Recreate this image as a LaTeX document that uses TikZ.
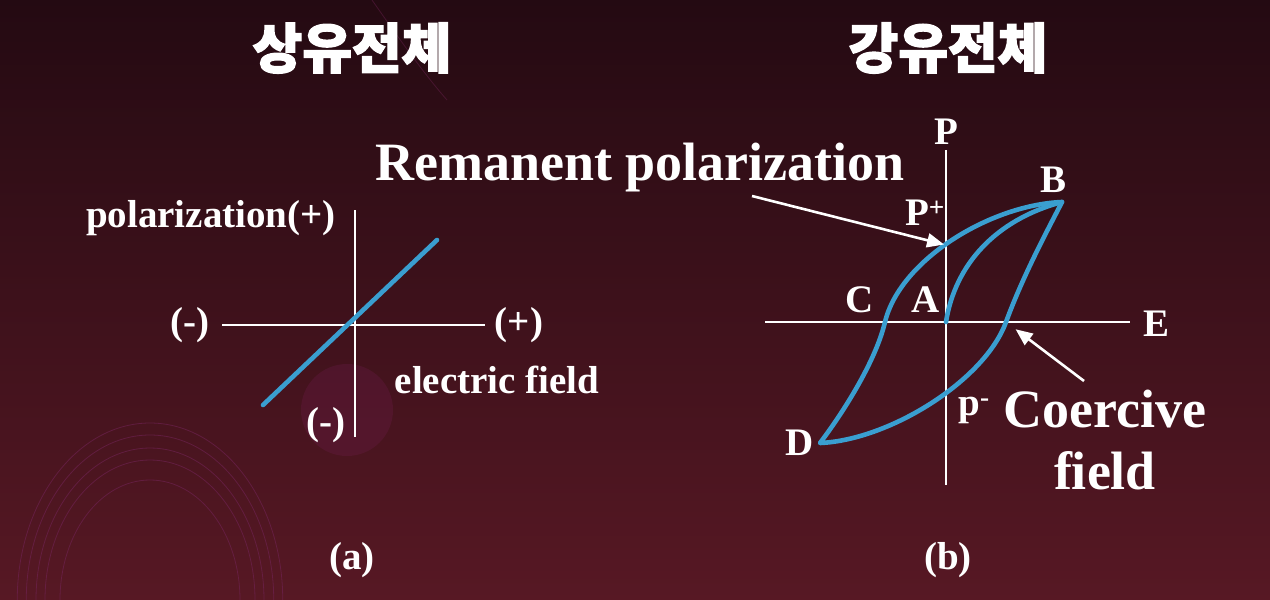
\documentclass[tikz,border=0pt]{standalone}
\usepackage{fontspec}
\setmainfont{Liberation Serif}
\newfontfamily\krfont{Noto Sans CJK KR}[BoldFeatures={FakeBold=2.5}]
\usetikzlibrary{arrows.meta}
\definecolor{bgdark}{HTML}{240A12}
\definecolor{bgred}{HTML}{571824}
\definecolor{loopblue}{HTML}{3A9ED0}
\definecolor{glowpink}{HTML}{6E1C4C}
\definecolor{ringpink}{HTML}{74245A}
\tikzset{every node/.style={text=white,inner sep=1pt},
  axis/.style={draw=white,line width=2.6pt},
  curve/.style={draw=loopblue,line width=4.6pt,line cap=round,line join=round},
  lbl/.style={font=\bfseries\fontsize{39}{42}\selectfont},
  biglbl/.style={font=\bfseries\fontsize{54}{62}\selectfont,align=center},
  title/.style={font=\krfont\bfseries\fontsize{54}{60}\selectfont},
  pointer/.style={draw=white,line width=2.6pt,-{Triangle[length=17pt,width=14pt]}},
  ring/.style={draw=ringpink,line width=0.8pt,opacity=0.55}}

\begin{document}
\begin{tikzpicture}[x=1pt,y=-1pt]
  \path[use as bounding box] (0,0) rectangle (1270,600);
  \shade[top color=bgdark,bottom color=bgred] (0,0) rectangle (1270,600);
  \begin{scope}
    \clip (0,0) rectangle (1270,600);
    \fill[glowpink,opacity=0.3] (347,410) circle (46);
    \foreach \r in {120,140,152,165,177}
      \draw[ring] (150,600) ellipse ({\r*0.75} and \r);
    \draw[ringpink,opacity=0.4,line width=0.8pt] (372,0) .. controls (400,40) and (425,75) .. (447,100);
  \end{scope}
  % titles
  \node[title] (para) at (352,48) {상유전체};
  \node[title] (ferro) at (948,48) {강유전체};
  % (a) linear dielectric
  \coordinate (aup) at (355,210);
  \coordinate (adown) at (355,437);
  \coordinate (aleft) at (222,325);
  \coordinate (aright) at (485,325);
  \coordinate (lin0) at (263,405);
  \coordinate (lin1) at (437,240);
  \draw[axis] (aup) -- (adown);
  \draw[axis] (aleft) -- (aright);
  \draw[curve] (lin0) -- (lin1);
  \node[lbl,anchor=east] (polz) at (337,218) {polarization(+)};
  \node[lbl] (hneg) at (190,325) {(-)};
  \node[lbl] (hpos) at (519,325) {(+)};
  \node[lbl] (vneg) at (326,425) {(-)};
  \node[lbl] (efield) at (497,380) {electric field};
  \node[lbl] (capa) at (352,560) {(a)};
  % (b) hysteresis loop
  \coordinate (bup) at (946,150);
  \coordinate (bdown) at (946,485);
  \coordinate (bleft) at (765,322);
  \coordinate (bright) at (1130,322);
  \coordinate (A) at (946,322);
  \coordinate (B) at (1062,202);
  \coordinate (C) at (885,322);
  \coordinate (D) at (820,443);
  \coordinate (Ec) at (1006,322);
  \coordinate (Pr) at (946,245);
  \coordinate (remtail) at (752,196);
  \coordinate (cftail) at (1084,381);
  \draw[axis] (bup) -- (bdown);
  \draw[axis] (bleft) -- (bright);
  \draw[curve] (A) .. controls (955,265) and (995,220) .. (B);
  \draw[curve] (B) .. controls (990,205) and (900,260) .. (C)
    .. controls (876,360) and (845,410) .. (D)
    .. controls (890,440) and (985,380) .. (Ec)
    .. controls (1023,276) and (1045,235) .. (B);
  \node[lbl] (Plbl) at (946,132) {P};
  \node[lbl] (Elbl) at (1156,324) {E};
  \node[lbl] (Blbl) at (1053,180) {B};
  \node[lbl] (Clbl) at (860,300) {C};
  \node[lbl] (Albl) at (926,300) {A};
  \node[lbl] (Dlbl) at (800,443) {D};
  \node[lbl] (Pplus) at (925,213) {P\textsuperscript{+}};
  \node[lbl] (pminus) at (974,410) {p\textsuperscript{-}};
  \node[biglbl] (remanent) at (640,168) {Remanent polarization};
  \node[biglbl] (coercive) at (1105,440) {Coercive\\field};
  \draw[pointer,shorten >=2pt] (remtail) -- (Pr);
  \draw[pointer,shorten >=12pt] (cftail) -- (Ec);
  \node[lbl] (capb) at (948,560) {(b)};
\end{tikzpicture}
\end{document}
